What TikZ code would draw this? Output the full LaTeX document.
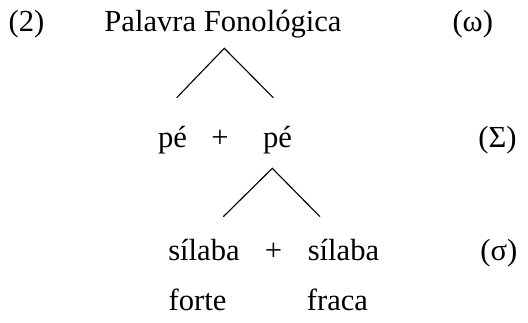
\documentclass[tikz,border=0pt]{standalone}
\usepackage{fontspec}
\setmainfont{Liberation Serif}
\usetikzlibrary{positioning}

\begin{document}
\begin{tikzpicture}[x=0.4pt,y=0.4pt,
  every node/.style={inner sep=0pt,anchor=base,font=\fontsize{12.24}{14}\selectfont},
  branch/.style={line width=0.45pt}]
\useasboundingbox (0,0) rectangle (528,322);

% palavra
\node (num) at (26.5,290.3) {(2)};
\node (pw) at (223,290.3) {Palavra Fonológica};
\node[anchor=base west] (omega) at (452,290.3) {(ω)};

% pés
\node (pe1) at (172.5,175) {pé};
\node (plus1) at (220,175) {+};
\node (pe2) at (277.5,175) {pé};
\node[anchor=base west] (Sigma) at (478,175) {(Σ)};

% sílabas
\node (sil1) at (204,62) {sílaba};
\node (plus2) at (273.5,62) {+};
\node (sil2) at (343.5,62) {sílaba};
\node[anchor=base west] (sigma) at (480,62) {(σ)};
\node (forte) at (197.5,12) {forte};
\node (fraca) at (337.5,12) {fraca};

\coordinate (top1) at (224.3,273.7);
\coordinate (left1) at (176.7,224.3);
\coordinate (right1) at (273.3,224.3);
\draw[branch] (left1) -- (top1) -- (right1);

\coordinate (top2) at (272.3,153.7);
\coordinate (left2) at (223.3,105.3);
\coordinate (right2) at (320,105.3);
\draw[branch] (left2) -- (top2) -- (right2);
\end{tikzpicture}
\end{document}
